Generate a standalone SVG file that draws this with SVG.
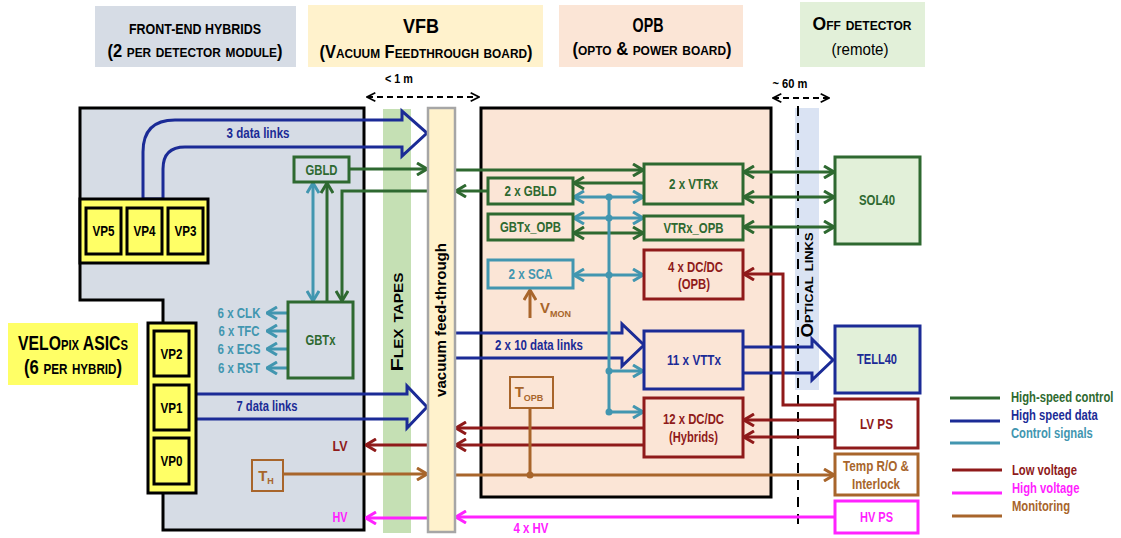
<svg xmlns="http://www.w3.org/2000/svg" width="1121" height="538" viewBox="0 0 1121 538">
<defs>
<style>
text{font-family:"Liberation Sans Narrow","Liberation Sans",Arial,sans-serif;font-weight:bold;text-anchor:middle}
.sc{font-variant:small-caps}
.g{stroke:#2e6930;fill:none;stroke-width:3}
.b{stroke:#1b2b96;fill:none;stroke-width:3}
.t{stroke:#4296b0;fill:none;stroke-width:3}
.r{stroke:#8f1a1a;fill:none;stroke-width:3}
.m{stroke:#ff22ff;fill:none;stroke-width:3}
.o{stroke:#a8652b;fill:none;stroke-width:3}
.gt{fill:#2e6930}.bt{fill:#1b2b96}.tt{fill:#4296b0}.rt{fill:#8f1a1a}.mt{fill:#ff22ff}.ot{fill:#a8652b}
.vp{fill:#ffff66;stroke:#000;stroke-width:3}
.st{text-anchor:start}
</style>
<marker id="ag" viewBox="0 0 12 14" refX="11" refY="7" markerWidth="12" markerHeight="14" markerUnits="userSpaceOnUse" orient="auto-start-reverse"><path d="M1,1 L11,7 L1,13" fill="none" stroke="#2e6930" stroke-width="3"/></marker>
<marker id="at" viewBox="0 0 12 14" refX="11" refY="7" markerWidth="12" markerHeight="14" markerUnits="userSpaceOnUse" orient="auto-start-reverse"><path d="M1,1 L11,7 L1,13" fill="none" stroke="#4296b0" stroke-width="3"/></marker>
<marker id="ar" viewBox="0 0 12 14" refX="11" refY="7" markerWidth="12" markerHeight="14" markerUnits="userSpaceOnUse" orient="auto-start-reverse"><path d="M1,1 L11,7 L1,13" fill="none" stroke="#8f1a1a" stroke-width="3"/></marker>
<marker id="am" viewBox="0 0 12 14" refX="11" refY="7" markerWidth="12" markerHeight="14" markerUnits="userSpaceOnUse" orient="auto-start-reverse"><path d="M1,1 L11,7 L1,13" fill="none" stroke="#ff22ff" stroke-width="3"/></marker>
<marker id="ao" viewBox="0 0 12 14" refX="11" refY="7" markerWidth="12" markerHeight="14" markerUnits="userSpaceOnUse" orient="auto-start-reverse"><path d="M1,1 L11,7 L1,13" fill="none" stroke="#a8652b" stroke-width="3"/></marker>
<marker id="ak" viewBox="0 0 12 14" refX="11" refY="7" markerWidth="10" markerHeight="12" markerUnits="userSpaceOnUse" orient="auto-start-reverse"><path d="M1,2 L11,7 L1,12" fill="none" stroke="#000" stroke-width="2"/></marker>
</defs>

<!-- headers -->
<g id="hdr-fe">
<rect x="95" y="6" width="201" height="61" fill="#d6dce5"/>
<text x="195" y="34" font-size="15" textLength="132" lengthAdjust="spacingAndGlyphs">FRONT-END HYBRIDS</text>
<text x="195" y="57" font-size="18" class="sc" textLength="175" lengthAdjust="spacingAndGlyphs">(2 per detector module)</text>
</g>
<g id="hdr-vfb">
<rect x="308" y="5" width="235" height="62" fill="#fff2cc"/>
<text x="421" y="33" font-size="20" textLength="36" lengthAdjust="spacingAndGlyphs">VFB</text>
<text x="426" y="58" font-size="18" class="sc" textLength="213" lengthAdjust="spacingAndGlyphs">(Vacuum Feedthrough board)</text>
</g>
<g id="hdr-opb">
<rect x="559" y="5" width="184" height="62" fill="#fbe5d6"/>
<text x="648" y="32" font-size="20" textLength="31" lengthAdjust="spacingAndGlyphs">OPB</text>
<text x="652" y="55" font-size="18" class="sc" textLength="159" lengthAdjust="spacingAndGlyphs">(opto &amp; power board)</text>
</g>
<g id="hdr-off">
<rect x="800" y="2" width="125" height="65" fill="#e2f0d9"/>
<text x="862" y="30" font-size="19" class="sc" textLength="99" lengthAdjust="spacingAndGlyphs">Off detector</text>
<text x="860" y="55" font-size="17" style="font-weight:normal" textLength="57" lengthAdjust="spacingAndGlyphs">(remote)</text>
</g>

<!-- distances -->
<g id="dist">
<text x="399" y="83" font-size="13" textLength="28" lengthAdjust="spacingAndGlyphs">&lt; 1 m</text>
<line x1="367" y1="97" x2="479" y2="97" stroke="#000" stroke-width="2" stroke-dasharray="6,4" marker-start="url(#ak)" marker-end="url(#ak)"/>
<text x="790" y="88" font-size="13" textLength="35" lengthAdjust="spacingAndGlyphs">~ 60 m</text>
<line x1="773" y1="98" x2="829" y2="98" stroke="#000" stroke-width="2" stroke-dasharray="6,4" marker-start="url(#ak)" marker-end="url(#ak)"/>
</g>

<!-- boards -->
<g id="hybrid">
<path d="M80,108 L364,108 L364,530 L163,530 L163,300 L80,300 Z" fill="#d6dce5" stroke="#000" stroke-width="3"/>
</g>
<g id="flex">
<rect x="383" y="109" width="28" height="424" fill="#c5e0b4"/>
<text transform="translate(403,322) rotate(-90)" font-size="17" class="sc" textLength="99" lengthAdjust="spacingAndGlyphs">Flex tapes</text>
</g>
<g id="opb-board">
<rect x="481" y="108" width="290" height="389" fill="#fbe5d6" stroke="#000" stroke-width="3"/>
</g>
<g id="optical">
<rect x="795" y="108" width="24" height="282" fill="#dae3f3"/>
<line x1="798" y1="106" x2="798" y2="528" stroke="#000" stroke-width="2" stroke-dasharray="10,7"/>
<text transform="translate(813,285) rotate(-90)" font-size="16" class="sc" textLength="105" lengthAdjust="spacingAndGlyphs">Optical links</text>
</g>

<!-- connectors -->
<g id="connectors">
<path class="b" d="M143,199 L143,152 Q143,120 175,120 L402,120 L402,111 L427,133 L402,156 L402,147 L185,147 Q163,147 163,169 L163,199 Z"/>
<path class="b" d="M196,394 L407,394 L407,386 L427,407 L407,428 L407,419 L196,419"/>
<path class="b" d="M455,333 L622,333 L622,324 L644,345 L622,366 L622,358 L455,358"/>
<path class="b" d="M743,347 L812,347 L812,339 L833,360 L812,380 L812,373 L743,373"/>
<line class="g" x1="349" y1="169" x2="427" y2="169" marker-end="url(#ag)"/>
<polyline class="g" points="427,191 342,191 342,301" marker-end="url(#ag)"/>
<line class="g" x1="327" y1="302" x2="327" y2="183" marker-end="url(#ag)"/>
<line class="t" x1="313" y1="183" x2="313" y2="301" marker-start="url(#at)" marker-end="url(#at)"/>
<line class="t" x1="288" y1="313" x2="267" y2="313" marker-end="url(#at)"/>
<line class="t" x1="288" y1="331" x2="267" y2="331" marker-end="url(#at)"/>
<line class="t" x1="288" y1="349" x2="267" y2="349" marker-end="url(#at)"/>
<line class="t" x1="288" y1="368" x2="267" y2="368" marker-end="url(#at)"/>
<line class="g" x1="455" y1="170" x2="643" y2="170" marker-end="url(#ag)"/>
<line class="g" x1="644" y1="183" x2="574" y2="183" marker-end="url(#ag)"/>
<line class="g" x1="488" y1="191" x2="456" y2="191" marker-end="url(#ag)"/>
<line class="g" x1="574" y1="233" x2="643" y2="233" marker-start="url(#ag)" marker-end="url(#ag)"/>
<line class="g" x1="744" y1="172" x2="834" y2="172" marker-start="url(#ag)" marker-end="url(#ag)"/>
<line class="g" x1="744" y1="197" x2="834" y2="197" marker-start="url(#ag)" marker-end="url(#ag)"/>
<line class="g" x1="744" y1="227" x2="834" y2="227" marker-start="url(#ag)" marker-end="url(#ag)"/>
<line class="t" x1="574" y1="197" x2="643" y2="197" marker-start="url(#at)" marker-end="url(#at)"/>
<line class="t" x1="574" y1="218" x2="643" y2="218" marker-start="url(#at)" marker-end="url(#at)"/>
<line class="t" x1="574" y1="275" x2="643" y2="275" marker-start="url(#at)" marker-end="url(#at)"/>
<line class="t" x1="609" y1="197" x2="609" y2="412"/>
<line class="t" x1="609" y1="371" x2="643" y2="371" marker-end="url(#at)"/>
<line class="t" x1="609" y1="412" x2="643" y2="412" marker-end="url(#at)"/>
<g fill="#4296b0">
<circle cx="609" cy="197" r="3.5"/><circle cx="609" cy="218" r="3.5"/><circle cx="609" cy="275" r="3.5"/><circle cx="609" cy="371" r="3.5"/><circle cx="609" cy="412" r="3.5"/>
</g>
<polyline class="r" points="835,405 783,405 783,274 744,274" marker-end="url(#ar)"/>
<line class="r" x1="835" y1="420" x2="744" y2="420" marker-end="url(#ar)"/>
<line class="r" x1="835" y1="437" x2="744" y2="437" marker-end="url(#ar)"/>
<line class="r" x1="644" y1="428" x2="456" y2="428" marker-end="url(#ar)"/>
<line class="r" x1="644" y1="445" x2="456" y2="445" marker-end="url(#ar)"/>
<line class="r" x1="428" y1="445" x2="366" y2="445" marker-end="url(#ar)"/>
<line class="o" x1="283" y1="474" x2="427" y2="474" marker-end="url(#ao)"/>
<line class="o" x1="455" y1="475" x2="834" y2="475" marker-end="url(#ao)"/>
<line class="o" x1="530" y1="408" x2="530" y2="475"/>
<circle cx="530" cy="475" r="3.5" fill="#a8652b"/>
<line class="o" x1="530" y1="318" x2="530" y2="290" marker-end="url(#ao)"/>
<line class="m" x1="835" y1="517" x2="456" y2="517" marker-end="url(#am)"/>
<line class="m" x1="428" y1="518" x2="366" y2="518" marker-end="url(#am)"/>
</g>

<g id="feedthrough">
<rect x="428" y="108" width="27" height="424" fill="#fff2cc" stroke="#a6a6a6" stroke-width="2.5"/>
<text transform="translate(446,320) rotate(-90)" font-size="15" textLength="154" lengthAdjust="spacingAndGlyphs">vacuum feed-through</text>
</g>

<g id="labels">
<text x="258" y="138" font-size="15" class="bt" textLength="63" lengthAdjust="spacingAndGlyphs">3 data links</text>
<text x="267" y="411" font-size="15" class="bt" textLength="61" lengthAdjust="spacingAndGlyphs">7 data links</text>
<text x="539" y="350" font-size="15" class="bt" textLength="88" lengthAdjust="spacingAndGlyphs">2 x 10 data links</text>
<text x="340" y="451" font-size="15" class="rt" textLength="15" lengthAdjust="spacingAndGlyphs">LV</text>
<text x="340" y="522" font-size="15" class="mt" textLength="15" lengthAdjust="spacingAndGlyphs">HV</text>
<text x="531" y="533" font-size="15" class="mt" textLength="35" lengthAdjust="spacingAndGlyphs">4 x HV</text>
<text x="239" y="318" font-size="15" class="tt" textLength="43" lengthAdjust="spacingAndGlyphs">6 x CLK</text>
<text x="239" y="336" font-size="15" class="tt" textLength="41" lengthAdjust="spacingAndGlyphs">6 x TFC</text>
<text x="239" y="354" font-size="15" class="tt" textLength="43" lengthAdjust="spacingAndGlyphs">6 x ECS</text>
<text x="239" y="373" font-size="15" class="tt" textLength="42" lengthAdjust="spacingAndGlyphs">6 x RST</text>
<text x="540" y="313" font-size="15" class="ot st">V<tspan font-size="9" dy="4">MON</tspan></text>
</g>

<g id="vp-top">
<rect class="vp" x="80" y="199" width="128" height="64"/>
<rect class="vp" x="86" y="208" width="35" height="46"/>
<rect class="vp" x="127" y="208" width="35" height="46"/>
<rect class="vp" x="168" y="208" width="35" height="46"/>
<text x="103.5" y="236" font-size="15" textLength="22" lengthAdjust="spacingAndGlyphs">VP5</text>
<text x="144.5" y="236" font-size="15" textLength="22" lengthAdjust="spacingAndGlyphs">VP4</text>
<text x="185.5" y="236" font-size="15" textLength="22" lengthAdjust="spacingAndGlyphs">VP3</text>
</g>
<g id="vp-bottom">
<rect class="vp" x="148" y="323" width="48" height="170"/>
<rect class="vp" x="154" y="331" width="35" height="45"/>
<rect class="vp" x="154" y="385" width="35" height="45"/>
<rect class="vp" x="154" y="438" width="35" height="46"/>
<text x="171.5" y="359" font-size="15" textLength="22" lengthAdjust="spacingAndGlyphs">VP2</text>
<text x="171.5" y="413" font-size="15" textLength="22" lengthAdjust="spacingAndGlyphs">VP1</text>
<text x="171.5" y="466" font-size="15" textLength="22" lengthAdjust="spacingAndGlyphs">VP0</text>
</g>
<g id="velopix-label">
<rect x="8" y="323" width="130" height="62" fill="#ffff66"/>
<text x="73" y="350" font-size="21" class="sc" textLength="110" lengthAdjust="spacingAndGlyphs">VELOpix ASICs</text>
<text x="73" y="374" font-size="20" class="sc" textLength="98" lengthAdjust="spacingAndGlyphs">(6 per hybrid)</text>
</g>
<g id="gbld-fe">
<rect x="294" y="157" width="55" height="25" fill="none" stroke="#2e6930" stroke-width="3"/>
<text x="321.5" y="175" font-size="15" class="gt" textLength="32" lengthAdjust="spacingAndGlyphs">GBLD</text>
</g>
<g id="gbtx-fe">
<rect x="288" y="302" width="65" height="76" fill="#d6dce5" stroke="#2e6930" stroke-width="3"/>
<text x="320.5" y="345" font-size="15" class="gt" textLength="30" lengthAdjust="spacingAndGlyphs">GBTx</text>
</g>
<g id="th">
<rect x="252" y="460" width="31" height="31" fill="none" stroke="#a8652b" stroke-width="2"/>
<text x="266" y="481" font-size="15" class="ot">T<tspan font-size="9" dy="3">H</tspan></text>
</g>

<g id="gbld-opb">
<rect x="488" y="178" width="85" height="26" fill="#fbe5d6" stroke="#2e6930" stroke-width="3"/>
<text x="530.5" y="196" font-size="15" class="gt" textLength="52" lengthAdjust="spacingAndGlyphs">2 x GBLD</text>
</g>
<g id="vtrx">
<rect x="644" y="164" width="99" height="40" fill="#fbe5d6" stroke="#2e6930" stroke-width="3"/>
<text x="693.5" y="189" font-size="15" class="gt" textLength="49" lengthAdjust="spacingAndGlyphs">2 x VTRx</text>
</g>
<g id="gbtx-opb">
<rect x="488" y="214" width="85" height="26" fill="#fbe5d6" stroke="#2e6930" stroke-width="3"/>
<text x="530.5" y="232" font-size="15" class="gt" textLength="61" lengthAdjust="spacingAndGlyphs">GBTx_OPB</text>
</g>
<g id="vtrx-opb">
<rect x="644" y="216" width="99" height="24" fill="#fbe5d6" stroke="#2e6930" stroke-width="3"/>
<text x="693.5" y="233" font-size="15" class="gt" textLength="60" lengthAdjust="spacingAndGlyphs">VTRx_OPB</text>
</g>
<g id="sca">
<rect x="488" y="260" width="85" height="28" fill="#fbe5d6" stroke="#4296b0" stroke-width="3"/>
<text x="530.5" y="279" font-size="15" class="tt" textLength="44" lengthAdjust="spacingAndGlyphs">2 x SCA</text>
</g>
<g id="dcdc-opb">
<rect x="644" y="250" width="99" height="49" fill="#fbe5d6" stroke="#8f1a1a" stroke-width="3"/>
<text x="695.5" y="272" font-size="15" class="rt" textLength="55" lengthAdjust="spacingAndGlyphs">4 x DC/DC</text>
<text x="694" y="289" font-size="15" class="rt" textLength="32" lengthAdjust="spacingAndGlyphs">(OPB)</text>
</g>
<g id="vttx">
<rect x="644" y="331" width="99" height="58" fill="#fbe5d6" stroke="#1b2b96" stroke-width="3"/>
<text x="694" y="365" font-size="15" class="bt" textLength="54" lengthAdjust="spacingAndGlyphs">11 x VTTx</text>
</g>
<g id="dcdc-hyb">
<rect x="644" y="398" width="99" height="59" fill="#fbe5d6" stroke="#8f1a1a" stroke-width="3"/>
<text x="693.5" y="424" font-size="15" class="rt" textLength="61" lengthAdjust="spacingAndGlyphs">12 x DC/DC</text>
<text x="693.5" y="442" font-size="15" class="rt" textLength="49" lengthAdjust="spacingAndGlyphs">(Hybrids)</text>
</g>
<g id="topb">
<rect x="510" y="377" width="43" height="31" fill="#fbe5d6" stroke="#a8652b" stroke-width="2"/>
<text x="529" y="397" font-size="15" class="ot">T<tspan font-size="9" dy="4">OPB</tspan></text>
</g>

<g id="sol40">
<rect x="835" y="157" width="85" height="87" fill="#e2f0d9" stroke="#2e6930" stroke-width="3"/>
<text x="877" y="205" font-size="15" class="gt" textLength="36" lengthAdjust="spacingAndGlyphs">SOL40</text>
</g>
<g id="tell40">
<rect x="835" y="326" width="85" height="67" fill="#e2f0d9" stroke="#1b2b96" stroke-width="3"/>
<text x="877" y="364" font-size="15" class="bt" textLength="40" lengthAdjust="spacingAndGlyphs">TELL40</text>
</g>
<g id="lvps">
<rect x="835" y="399" width="83" height="49" fill="#fff" stroke="#8f1a1a" stroke-width="3"/>
<text x="876.5" y="429" font-size="15" class="rt" textLength="33" lengthAdjust="spacingAndGlyphs">LV PS</text>
</g>
<g id="temp">
<rect x="835" y="454" width="83" height="41" fill="#fff" stroke="#a8652b" stroke-width="3"/>
<text x="876" y="471" font-size="15" class="ot" textLength="66" lengthAdjust="spacingAndGlyphs">Temp R/O &amp;</text>
<text x="876" y="489" font-size="15" class="ot" textLength="48" lengthAdjust="spacingAndGlyphs">Interlock</text>
</g>
<g id="hvps">
<rect x="835" y="501" width="83" height="32" fill="#fff" stroke="#ff22ff" stroke-width="3"/>
<text x="876.5" y="522" font-size="15" class="mt" textLength="33" lengthAdjust="spacingAndGlyphs">HV PS</text>
</g>

<g id="legend">
<line x1="950" y1="398" x2="1000" y2="398" stroke="#2e6930" stroke-width="3"/>
<line x1="950" y1="421" x2="1000" y2="421" stroke="#1b2b96" stroke-width="3"/>
<line x1="950" y1="443" x2="1000" y2="443" stroke="#4296b0" stroke-width="3"/>
<line x1="952" y1="470" x2="1002" y2="470" stroke="#8f1a1a" stroke-width="3"/>
<line x1="952" y1="493" x2="1002" y2="493" stroke="#ff22ff" stroke-width="3"/>
<line x1="952" y1="516" x2="1002" y2="516" stroke="#a8652b" stroke-width="3"/>
<text transform="translate(1011,402) scale(0.75,1)" font-size="15" class="gt st">High-speed control</text>
<text transform="translate(1011,420) scale(0.75,1)" font-size="15" class="bt st">High speed data</text>
<text transform="translate(1011,438) scale(0.75,1)" font-size="15" class="tt st">Control signals</text>
<text transform="translate(1012,475) scale(0.75,1)" font-size="15" class="rt st">Low voltage</text>
<text transform="translate(1012,493) scale(0.75,1)" font-size="15" class="mt st">High voltage</text>
<text transform="translate(1012,511) scale(0.75,1)" font-size="15" class="ot st">Monitoring</text>
</g>
</svg>
